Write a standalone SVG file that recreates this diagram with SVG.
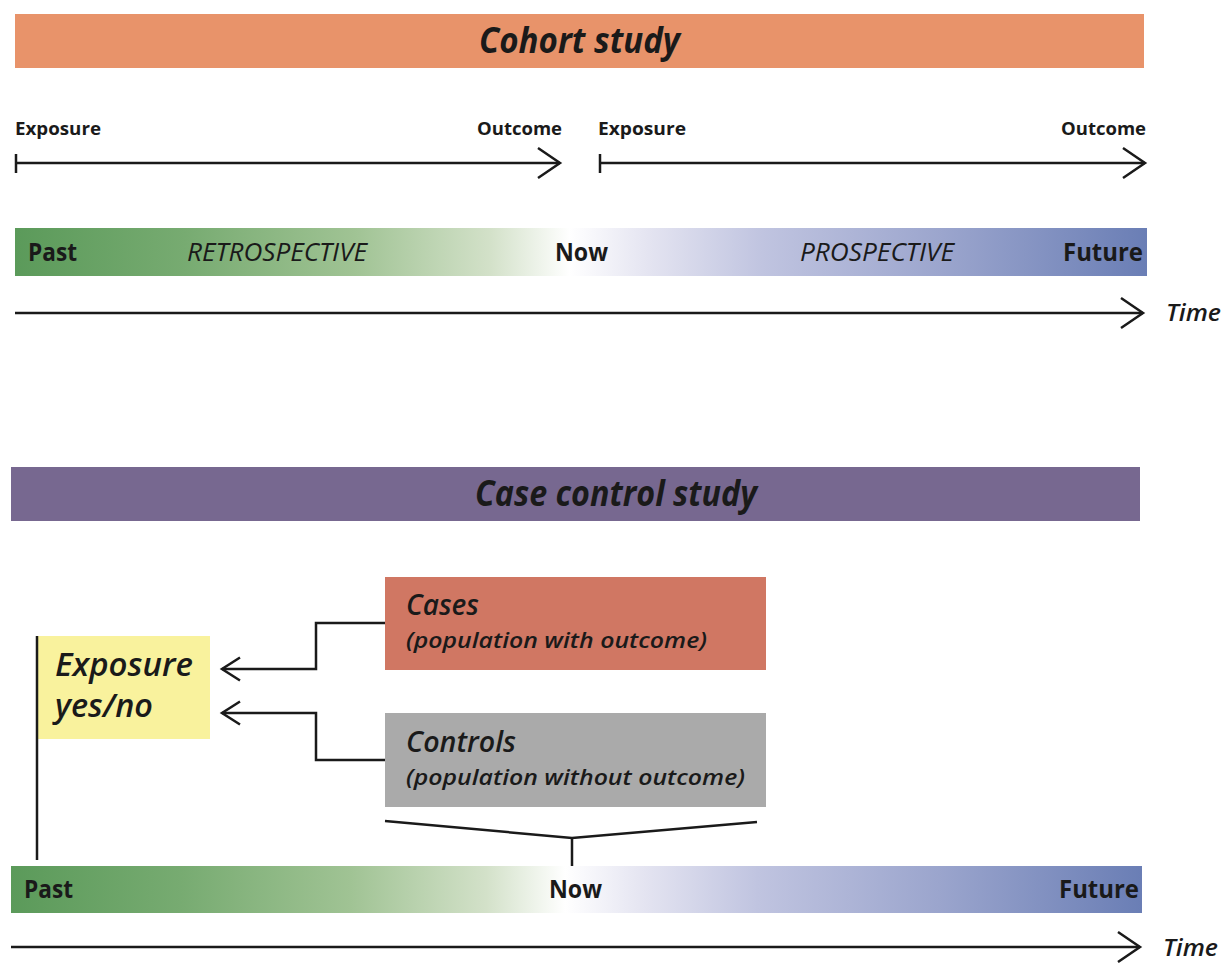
<svg xmlns="http://www.w3.org/2000/svg" width="1222" height="963" viewBox="0 0 1222 963">
<style>
text{font-family:"Open Sans","Noto Sans","Liberation Sans",sans-serif;fill:#1a1a1a}
.hdr{font-size:36px;font-weight:700;font-style:italic}
.lbl{font-size:18px;font-weight:700}
.bar{font-size:25px;font-weight:700}
.era{font-size:25px;font-style:italic}
.time{font-size:24px;font-style:italic;font-weight:600}
.box1{font-size:28px;font-style:italic;font-weight:600}
.box2{font-size:22px;font-style:italic;font-weight:600}
.exp{font-size:32px;font-style:italic;font-weight:600}
.ln{fill:none;stroke:#1a1a1a;stroke-width:2.5}
</style>
<defs>
<linearGradient id="tl" x1="0" y1="0" x2="1" y2="0">
<stop offset="0" stop-color="#5B9A5A"/>
<stop offset="0.15" stop-color="#77AB71"/>
<stop offset="0.3" stop-color="#A0C394"/>
<stop offset="0.42" stop-color="#D3E1C9"/>
<stop offset="0.49" stop-color="#FFFFFF"/>
<stop offset="0.56" stop-color="#E4E4F1"/>
<stop offset="0.66" stop-color="#C0C4E0"/>
<stop offset="0.82" stop-color="#9BA5CD"/>
<stop offset="1" stop-color="#6A7EB5"/>
</linearGradient>
<marker id="chev" markerUnits="userSpaceOnUse" markerWidth="40" markerHeight="40" refX="0" refY="0" orient="auto" overflow="visible">
<path d="M-22,-15 L0,0 L-22,15" fill="none" stroke="#1a1a1a" stroke-width="2.5"/>
</marker>
<marker id="chevs" markerUnits="userSpaceOnUse" markerWidth="30" markerHeight="30" refX="0" refY="0" orient="auto" overflow="visible">
<path d="M-18,-11.5 L0,0 L-18,11.5" fill="none" stroke="#1a1a1a" stroke-width="2.5"/>
</marker>
</defs>
<rect width="1222" height="963" fill="#ffffff"/>

<g id="cohort-header">
<rect x="15" y="14" width="1129" height="54" fill="#E8936A"/>
<text class="hdr" x="479" y="53" textLength="201" lengthAdjust="spacingAndGlyphs">Cohort study</text>
</g>

<g id="retro-labels">
<text class="lbl" x="15" y="135" textLength="86" lengthAdjust="spacingAndGlyphs">Exposure</text>
<text class="lbl" x="477" y="135" textLength="85" lengthAdjust="spacingAndGlyphs">Outcome</text>
</g>
<g id="pro-labels">
<text class="lbl" x="598" y="135" textLength="88" lengthAdjust="spacingAndGlyphs">Exposure</text>
<text class="lbl" x="1061" y="135" textLength="85" lengthAdjust="spacingAndGlyphs">Outcome</text>
</g>

<g id="cohort-timeline">
<rect x="15" y="228" width="1132" height="48" fill="url(#tl)"/>
<text class="bar" x="28" y="261" textLength="49" lengthAdjust="spacingAndGlyphs">Past</text>
<text class="era" x="187" y="261" textLength="180" lengthAdjust="spacingAndGlyphs">RETROSPECTIVE</text>
<text class="bar" x="555" y="261" textLength="53" lengthAdjust="spacingAndGlyphs">Now</text>
<text class="era" x="800" y="261" textLength="154" lengthAdjust="spacingAndGlyphs">PROSPECTIVE</text>
<text class="bar" x="1063" y="261" textLength="80" lengthAdjust="spacingAndGlyphs">Future</text>
</g>
<g id="cohort-time">
<text class="time" x="1166" y="321" textLength="55" lengthAdjust="spacingAndGlyphs">Time</text>
</g>

<g id="casecontrol-header">
<rect x="11" y="467" width="1129" height="54" fill="#776890"/>
<text class="hdr" x="475" y="506" textLength="282" lengthAdjust="spacingAndGlyphs">Case control study</text>
</g>

<g id="exposure">
<rect x="38" y="636" width="172" height="103" fill="#F9F29D"/>
<text class="exp" x="55" y="676" textLength="138" lengthAdjust="spacingAndGlyphs">Exposure</text>
<text class="exp" x="55" y="717" textLength="98" lengthAdjust="spacingAndGlyphs">yes/no</text>
</g>

<g id="cases">
<rect x="385" y="577" width="381" height="93" fill="#D07763"/>
<text class="box1" x="406" y="615" textLength="73" lengthAdjust="spacingAndGlyphs">Cases</text>
<text class="box2" x="406" y="648" textLength="301" lengthAdjust="spacingAndGlyphs">(population with outcome)</text>
</g>

<g id="controls">
<rect x="385" y="713" width="381" height="94" fill="#AAAAAA"/>
<text class="box1" x="406" y="752" textLength="110" lengthAdjust="spacingAndGlyphs">Controls</text>
<text class="box2" x="406" y="785" textLength="339" lengthAdjust="spacingAndGlyphs">(population without outcome)</text>
</g>

<g id="cc-timeline">
<rect x="11" y="866" width="1131" height="47" fill="url(#tl)"/>
<text class="bar" x="24" y="898" textLength="49" lengthAdjust="spacingAndGlyphs">Past</text>
<text class="bar" x="549" y="898" textLength="53" lengthAdjust="spacingAndGlyphs">Now</text>
<text class="bar" x="1059" y="898" textLength="80" lengthAdjust="spacingAndGlyphs">Future</text>
</g>
<g id="cc-time">
<text class="time" x="1163" y="956" textLength="55" lengthAdjust="spacingAndGlyphs">Time</text>
</g>

<g id="connectors">
<path class="ln" d="M16,163 H560" marker-end="url(#chev)"/>
<path class="ln" d="M16,154 V173"/>
<path class="ln" d="M600,163 H1145" marker-end="url(#chev)"/>
<path class="ln" d="M600,154 V173"/>
<path class="ln" d="M15,313 H1143" marker-end="url(#chev)"/>
<path class="ln" d="M385,623 H316 V669 H222" marker-end="url(#chevs)"/>
<path class="ln" d="M385,760 H316 V713 H222" marker-end="url(#chevs)"/>
<path class="ln" d="M37,636 V860"/>
<path class="ln" d="M385,821 L572,838 L757,822"/>
<path class="ln" d="M572,838 V866"/>
<path class="ln" d="M11,947 H1140" marker-end="url(#chev)"/>
</g>
</svg>
